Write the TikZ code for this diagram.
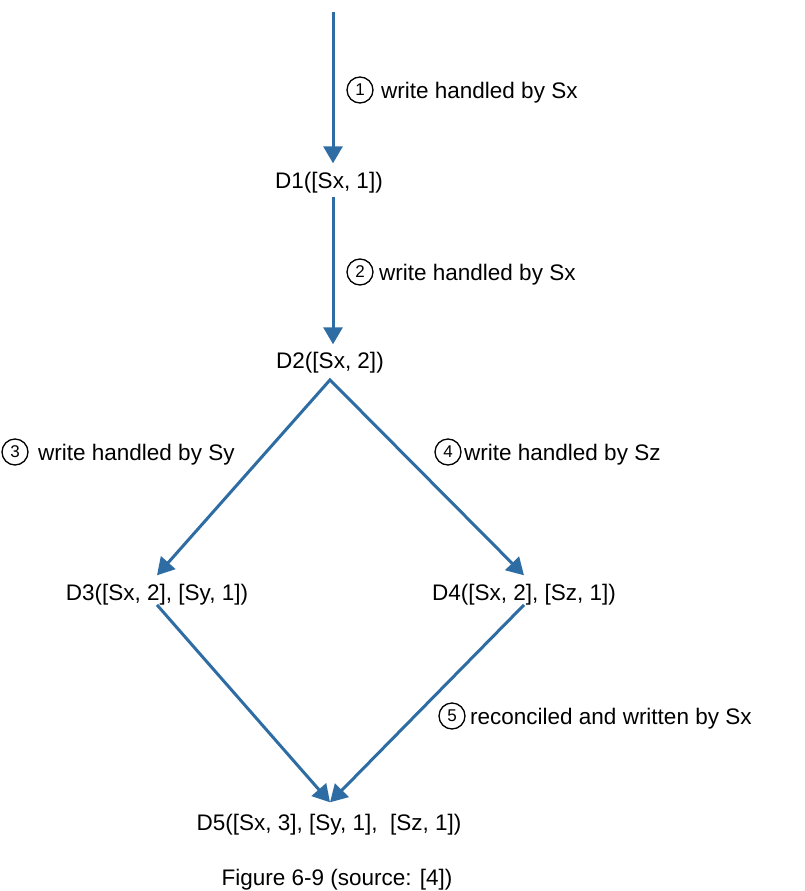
\documentclass[tikz,border=0pt]{standalone}
\usepackage{fontspec}
\setmainfont{Liberation Sans}
\usetikzlibrary{arrows.meta}
\definecolor{arrowblue}{RGB}{46,109,164}
\begin{document}
\begin{tikzpicture}[x=1pt,y=-1pt,
  every node/.style={font=\fontsize{22.5}{27}\selectfont, text=black},
  dnode/.style={anchor=base, inner sep=0pt, text height=16.5pt, text depth=4.7pt},
  flow/.style={draw=arrowblue, line width=3pt, line join=miter, -{Triangle[length=17pt,width=19pt]}},
  flowtwo/.style={draw=arrowblue, line width=3pt, line join=miter, {Triangle[length=17pt,width=19pt]}-{Triangle[length=17pt,width=19pt]}},
  circnum/.style={draw=black, circle, line width=1.3pt, minimum size=26pt, inner sep=0pt, font=\fontsize{17}{20}\selectfont},
  lab/.style={anchor=base west, inner sep=0pt}]
\useasboundingbox (0,0) rectangle (805,891);

% nodes
\coordinate (top) at (333,12);
\node[dnode] (D1) at (329,188) {D1([Sx, 1])};
\node[dnode] (D2) at (330,368) {D2([Sx, 2])};
\node[dnode] (D3) at (157,600) {D3([Sx, 2], [Sy, 1])};
\node[dnode] (D4) at (524,600) {D4([Sx, 2], [Sz, 1])};
\node[dnode] (D5) at (329,830) {D5([Sx, 3], [Sy, 1], \ [Sz, 1])};
\node[dnode] (cap) at (337,885) {Figure 6-9 (source: [4])};
\coordinate (apex) at ([yshift=-7pt]D2.south);
\coordinate (in3) at ([yshift=8pt]D3.north);
\coordinate (in4) at ([yshift=8pt]D4.north);
\coordinate (in5) at ([xshift=1pt,yshift=11pt]D5.north);

% labels
\node[circnum] (c1) at (360,90) {1};
\node[lab] (t1) at (381,98) {write handled by Sx};
\node[circnum] (c2) at (360,272) {2};
\node[lab] (t2) at (379,280) {write handled by Sx};
\node[circnum] (c3) at (15,452) {3};
\node[lab] (t3) at (38,460) {write handled by Sy};
\node[circnum] (c4) at (448,452) {4};
\node[lab] (t4) at (464,460) {write handled by Sz};
\node[circnum] (c5) at (452,716) {5};
\node[lab] (t5) at (470,724) {reconciled and written by Sx};

% connectors
\draw[flow, shorten >=8pt] (top) -- (top |- D1.north);
\draw[flow, shorten <=4pt, shorten >=7pt] (top |- D1.south) -- (top |- D2.north);
\draw[flowtwo] (in3) -- (apex) -- (in4);
\draw[flow] (D3.south) -- (in5);
\draw[flow] (D4.south) -- (in5);
\end{tikzpicture}
\end{document}
